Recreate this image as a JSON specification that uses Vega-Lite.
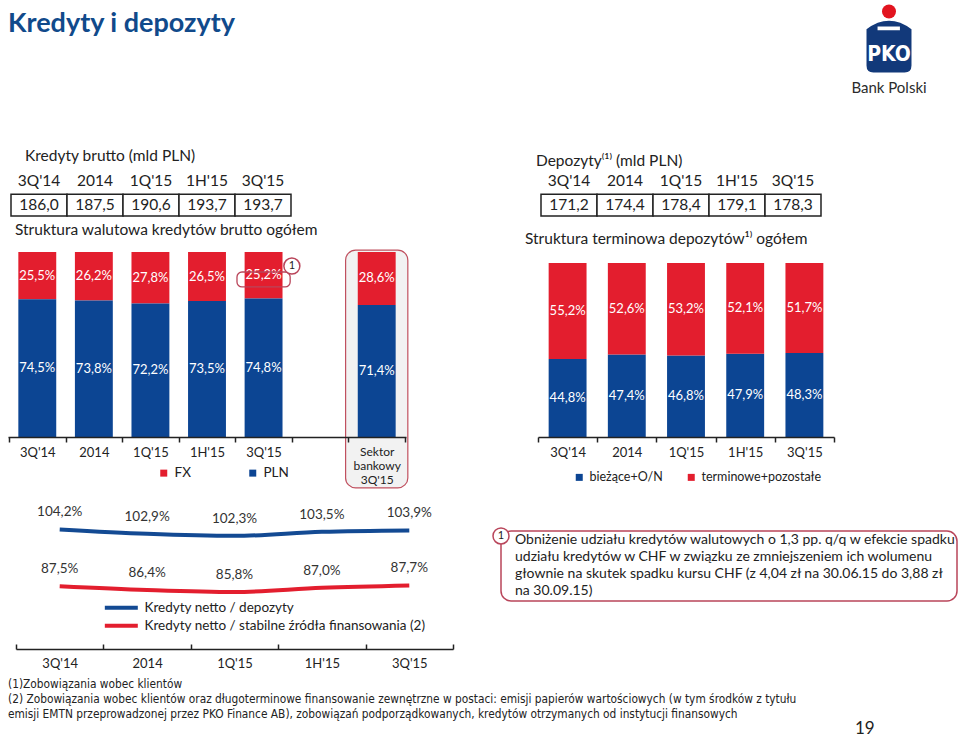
{
  "$schema": "https://vega.github.io/schema/vega-lite/v6.json",
  "padding": {"left": 8, "top": 0, "right": 0, "bottom": 0},
  "autosize": {"type": "pad"},
  "background": "white",
  "config": {
    "view": {"stroke": null},
    "font": "Lato",
    "locale": {"number": {"decimal": ",", "thousands": "\u00a0", "grouping": [3], "currency": ["", " zł"]}},
    "axis": {"domainColor": "#222", "tickColor": "#222", "labelColor": "#222", "labelFont": "Lato", "labelFontSize": 13, "domainWidth": 1.5, "tickWidth": 1.5, "grid": false},
    "legend": {"labelFont": "Lato", "labelColor": "#222", "labelFontSize": 12.5, "padding": 0, "labelLimit": 400},
    "title": {"font": "Lato", "fontWeight": "normal", "color": "#222", "fontSize": 15.5, "anchor": "start", "frame": "group", "baseline": "alphabetic"}
  },
  "datasets": {
    "tab_kredyty": [
      {"period": "3Q'14", "value": 186.0},
      {"period": "2014", "value": 187.5},
      {"period": "1Q'15", "value": 190.6},
      {"period": "1H'15", "value": 193.7},
      {"period": "3Q'15", "value": 193.7}
    ],
    "tab_depozyty": [
      {"period": "3Q'14", "value": 171.2},
      {"period": "2014", "value": 174.4},
      {"period": "1Q'15", "value": 178.4},
      {"period": "1H'15", "value": 179.1},
      {"period": "3Q'15", "value": 178.3}
    ],
    "struktura_kredytow": [
      {"period": "3Q'14", "type": "FX", "share": 0.255},
      {"period": "3Q'14", "type": "PLN", "share": 0.745},
      {"period": "2014", "type": "FX", "share": 0.262},
      {"period": "2014", "type": "PLN", "share": 0.738},
      {"period": "1Q'15", "type": "FX", "share": 0.278},
      {"period": "1Q'15", "type": "PLN", "share": 0.722},
      {"period": "1H'15", "type": "FX", "share": 0.265},
      {"period": "1H'15", "type": "PLN", "share": 0.735},
      {"period": "3Q'15", "type": "FX", "share": 0.252},
      {"period": "3Q'15", "type": "PLN", "share": 0.748},
      {"period": "Sektor bankowy 3Q'15", "type": "FX", "share": 0.286},
      {"period": "Sektor bankowy 3Q'15", "type": "PLN", "share": 0.714}
    ],
    "struktura_depozytow": [
      {"period": "3Q'14", "type": "bieżące+O/N", "share": 0.448},
      {"period": "3Q'14", "type": "terminowe+pozostałe", "share": 0.552},
      {"period": "2014", "type": "bieżące+O/N", "share": 0.474},
      {"period": "2014", "type": "terminowe+pozostałe", "share": 0.526},
      {"period": "1Q'15", "type": "bieżące+O/N", "share": 0.468},
      {"period": "1Q'15", "type": "terminowe+pozostałe", "share": 0.532},
      {"period": "1H'15", "type": "bieżące+O/N", "share": 0.479},
      {"period": "1H'15", "type": "terminowe+pozostałe", "share": 0.521},
      {"period": "3Q'15", "type": "bieżące+O/N", "share": 0.483},
      {"period": "3Q'15", "type": "terminowe+pozostałe", "share": 0.517}
    ],
    "wskazniki": [
      {"period": "3Q'14", "series": "Kredyty netto / depozyty", "ratio": 1.042},
      {"period": "2014", "series": "Kredyty netto / depozyty", "ratio": 1.029},
      {"period": "1Q'15", "series": "Kredyty netto / depozyty", "ratio": 1.023},
      {"period": "1H'15", "series": "Kredyty netto / depozyty", "ratio": 1.035},
      {"period": "3Q'15", "series": "Kredyty netto / depozyty", "ratio": 1.039},
      {"period": "3Q'14", "series": "Kredyty netto / stabilne źródła finansowania (2)", "ratio": 0.875},
      {"period": "2014", "series": "Kredyty netto / stabilne źródła finansowania (2)", "ratio": 0.864},
      {"period": "1Q'15", "series": "Kredyty netto / stabilne źródła finansowania (2)", "ratio": 0.858},
      {"period": "1H'15", "series": "Kredyty netto / stabilne źródła finansowania (2)", "ratio": 0.870},
      {"period": "3Q'15", "series": "Kredyty netto / stabilne źródła finansowania (2)", "ratio": 0.877}
    ],
    "nota": [
      {"line": 1, "text": "Obniżenie udziału kredytów walutowych o 1,3 pp. q/q w efekcie spadku"},
      {"line": 2, "text": "udziału kredytów w CHF w związku ze zmniejszeniem ich wolumenu"},
      {"line": 3, "text": "głownie na skutek spadku kursu CHF (z 4,04 zł na 30.06.15 do 3,88 zł"},
      {"line": 4, "text": "na 30.09.15)"}
    ],
    "przypisy": [
      {"row": 1, "text": "(1)Zobowiązania wobec klientów"},
      {"row": 2, "text": "(2) Zobowiązania wobec klientów oraz długoterminowe finansowanie zewnętrzne w postaci: emisji papierów wartościowych (w tym środków z tytułu"},
      {"row": 3, "text": "\u00a0\u00a0\u00a0\u00a0\u00a0emisji EMTN przeprowadzonej przez PKO Finance AB), zobowiązań podporządkowanych, kredytów otrzymanych od instytucji finansowych"},
      {"row": 4, "text": "19"}
    ]
  },
  "concat": [
    {
      "width": 493, "height": 170,
      "data": {"values": [{"title": "Kredyty i depozyty"}]},
      "mark": {"type": "text", "align": "left", "baseline": "alphabetic", "fontSize": 27, "fontWeight": "bold", "color": "#114a8b"},
      "encoding": {
        "text": {"field": "title", "type": "nominal"},
        "x": {"datum": "t", "type": "nominal", "bandPosition": 0, "scale": {"type": "band", "paddingInner": 0, "paddingOuter": 0}, "axis": null},
        "y": {"datum": "t", "type": "nominal", "scale": {"type": "point", "padding": 0, "align": 0.188}, "axis": null}
      }
    },
    {"width": 37, "height": 170, "data": {"values": []}, "mark": {"type": "point", "opacity": 0}},
    {
      "width": 419, "height": 170,
      "data": {"values": [{"part": "dot"}, {"part": "body", "label": "PKO"}, {"part": "name", "label": "Bank Polski"}]},
      "encoding": {
        "x": {"datum": "logo", "type": "nominal", "scale": {"type": "point", "padding": 0, "align": 0.8377}, "axis": null}
      },
      "layer": [
        {"transform": [{"filter": {"field": "part", "equal": "dot"}}], "mark": {"type": "point", "shape": "circle", "size": 196, "filled": true, "opacity": 1, "color": "#e2141f"},
         "encoding": {"y": {"datum": 1, "type": "quantitative", "scale": {"domain": [0.7013, 5.117], "reverse": true, "nice": false, "zero": false}, "axis": null}}},
        {"transform": [{"filter": {"field": "part", "equal": "body"}}], "mark": {"type": "point", "shape": "M-0.865,-0.8Q0,-1.45 0.865,-0.8L0.865,0.6Q0.865,0.865 0.6,0.865L-0.6,0.865Q-0.865,0.865 -0.865,0.6Z M-0.44,-0.9L-0.44,-0.76L0.42,-0.76L0.42,-0.9Z", "size": 2704, "filled": true, "opacity": 1, "color": "#12397a"},
         "encoding": {"y": {"datum": 2, "type": "quantitative", "scale": {"domain": [0.7013, 5.117], "reverse": true, "nice": false, "zero": false}, "axis": null}}},
        {"transform": [{"filter": {"field": "part", "equal": "body"}}], "mark": {"type": "text", "font": "DejaVu Sans Condensed, DejaVu Sans, sans-serif", "fontWeight": "bold", "fontSize": 21, "color": "white", "dy": 5},
         "encoding": {"y": {"datum": 2, "type": "quantitative", "scale": {"domain": [0.7013, 5.117], "reverse": true, "nice": false, "zero": false}, "axis": null}, "text": {"field": "label", "type": "nominal"}}},
        {"transform": [{"filter": {"field": "part", "equal": "name"}}], "mark": {"type": "text", "fontSize": 15, "color": "#2b2b2b"},
         "encoding": {"y": {"datum": 3, "type": "quantitative", "scale": {"domain": [0.7013, 5.117], "reverse": true, "nice": false, "zero": false}, "axis": null}, "text": {"field": "label", "type": "nominal"}}}
      ]
    },
    {
      "width": 286, "height": 82,
      "title": {"text": "Kredyty brutto (mld PLN)", "dx": 17, "offset": 5.5},
      "data": {"name": "tab_kredyty"},
      "encoding": {"x": {"field": "period", "type": "nominal", "scale": {"type": "band", "domain": ["3Q'14", "2014", "1Q'15", "1H'15", "3Q'15"], "paddingInner": 0, "paddingOuter": 0.0536}, "axis": null}},
      "layer": [
        {"mark": {"type": "rect", "fill": "white", "stroke": "#222", "strokeWidth": 1.5},
         "encoding": {"y": {"datum": "v", "type": "nominal", "scale": {"type": "band", "domain": ["h", "v"], "paddingInner": 0.1, "paddingOuter": 0.744, "align": 0}, "axis": null}}},
        {"mark": {"type": "text", "fontSize": 15.5, "color": "#222"},
         "encoding": {"y": {"datum": "h", "type": "nominal", "scale": {"type": "band", "domain": ["h", "v"], "paddingInner": 0.1, "paddingOuter": 0.744, "align": 0}, "axis": null}, "text": {"field": "period", "type": "nominal"}}},
        {"mark": {"type": "text", "fontSize": 15.5, "color": "#222"},
         "encoding": {"y": {"datum": "v", "type": "nominal", "scale": {"type": "band", "domain": ["h", "v"], "paddingInner": 0.1, "paddingOuter": 0.744, "align": 0}, "axis": null}, "text": {"field": "value", "type": "quantitative", "format": ".1f"}}}
      ]
    },
    {"width": 37, "height": 82, "data": {"values": []}, "mark": {"type": "point", "opacity": 0}},
    {
      "width": 286, "height": 82,
      "title": {"text": "Depozyty⁽¹⁾ (mld PLN)", "dx": -2, "offset": 0.5},
      "data": {"name": "tab_depozyty"},
      "encoding": {"x": {"field": "period", "type": "nominal", "scale": {"type": "band", "domain": ["3Q'14", "2014", "1Q'15", "1H'15", "3Q'15"], "paddingInner": 0, "paddingOuter": 0.0536}, "axis": null}},
      "layer": [
        {"mark": {"type": "rect", "fill": "white", "stroke": "#222", "strokeWidth": 1.5},
         "encoding": {"y": {"datum": "v", "type": "nominal", "scale": {"type": "band", "domain": ["h", "v"], "paddingInner": 0.1, "paddingOuter": 0.744, "align": 0}, "axis": null}}},
        {"mark": {"type": "text", "fontSize": 15.5, "color": "#222"},
         "encoding": {"y": {"datum": "h", "type": "nominal", "scale": {"type": "band", "domain": ["h", "v"], "paddingInner": 0.1, "paddingOuter": 0.744, "align": 0}, "axis": null}, "text": {"field": "period", "type": "nominal"}}},
        {"mark": {"type": "text", "fontSize": 15.5, "color": "#222"},
         "encoding": {"y": {"datum": "v", "type": "nominal", "scale": {"type": "band", "domain": ["h", "v"], "paddingInner": 0.1, "paddingOuter": 0.744, "align": 0}, "axis": null}, "text": {"field": "value", "type": "quantitative", "format": ".1f"}}}
      ]
    },
    {
      "width": 398, "height": 185,
      "title": {"text": "Struktura walutowa kredytów brutto ogółem", "dx": 7, "offset": 11.5},
      "data": {"name": "struktura_kredytow"},
      "encoding": {"x": {"field": "period", "type": "nominal", "scale": {"type": "band", "domain": ["3Q'14", "2014", "1Q'15", "1H'15", "3Q'15", " ", "Sektor bankowy 3Q'15"], "paddingInner": 0, "paddingOuter": 0.0177}, "axis": {"title": null, "zindex": 1, "tickBand": "extent", "labelAngle": 0, "labelExpr": "isValid(datum.value) ? split(datum.value, ' ') : ''", "labelFontSize": {"condition": {"test": "isValid(datum.value) && indexof(datum.value, 'Sektor') >= 0", "value": 12}, "value": 13}, "labelLineHeight": 14, "labelPadding": 4, "tickSize": 5}}},
      "layer": [
        {"transform": [{"filter": {"field": "type", "equal": "FX"}}, {"filter": {"field": "period", "equal": "Sektor bankowy 3Q'15"}}],
         "mark": {"type": "bar", "width": {"band": 1.1}, "cornerRadius": 10, "fill": "#f2f2f2", "stroke": "#c0505f", "strokeWidth": 1.2},
         "encoding": {"y": {"datum": 1.01, "type": "quantitative", "scale": {"domain": [0, 1], "nice": false, "zero": false}, "axis": null}, "y2": {"datum": -0.275}}},
        {"mark": {"type": "bar", "width": {"band": 0.67}},
         "encoding": {
           "y": {"field": "share", "type": "quantitative", "stack": "zero", "scale": {"domain": [0, 1], "nice": false}, "axis": null},
           "color": {"field": "type", "type": "nominal", "scale": {"domain": ["FX", "PLN"], "range": ["#e31e2e", "#0c4593"]}, "legend": {"orient": "none", "legendX": 149, "legendY": 214, "direction": "horizontal", "title": null, "symbolType": "square", "symbolSize": 49, "labelFontSize": 13.5, "labelOffset": 4, "columnPadding": 55}},
           "order": {"field": "type", "sort": "descending"}}},
        {"transform": [{"filter": {"field": "type", "equal": "PLN"}}],
         "mark": {"type": "text", "color": "white", "fontSize": 13},
         "encoding": {"y": {"field": "share", "type": "quantitative", "scale": {"domain": [0, 2], "nice": false, "zero": false}, "axis": null}, "text": {"field": "share", "type": "quantitative", "format": ".1%"}}},
        {"transform": [{"filter": {"field": "type", "equal": "FX"}}],
         "mark": {"type": "text", "color": "white", "fontSize": 13},
         "encoding": {"y": {"field": "share", "type": "quantitative", "scale": {"domain": [0, 2], "reverse": true, "nice": false, "zero": false}, "axis": null}, "text": {"field": "share", "type": "quantitative", "format": ".1%"}}},
        {"transform": [{"filter": {"field": "type", "equal": "FX"}}, {"filter": {"field": "period", "equal": "3Q'15"}}],
         "mark": {"type": "bar", "width": {"band": 0.94}, "cornerRadius": 5, "fill": "transparent", "stroke": "#b9455a", "strokeWidth": 1.3},
         "encoding": {"y": {"datum": 0.892, "type": "quantitative", "scale": {"domain": [0, 1], "nice": false, "zero": false}, "axis": null}, "y2": {"datum": 0.811}}},
        {"transform": [{"filter": {"field": "type", "equal": "FX"}}, {"filter": {"field": "period", "equal": "3Q'15"}}],
         "mark": {"type": "point", "shape": "circle", "size": 256, "filled": true, "fill": "white", "stroke": "#b9455a", "strokeWidth": 1.5, "opacity": 1},
         "encoding": {"x": {"field": "period", "type": "nominal", "bandPosition": 1}, "y": {"datum": 0.924, "type": "quantitative", "scale": {"domain": [0, 1], "nice": false, "zero": false}, "axis": null}}},
        {"transform": [{"filter": {"field": "type", "equal": "FX"}}, {"filter": {"field": "period", "equal": "3Q'15"}}],
         "mark": {"type": "text", "fontSize": 11, "color": "#222"},
         "encoding": {"x": {"field": "period", "type": "nominal", "bandPosition": 1}, "y": {"datum": 0.924, "type": "quantitative", "scale": {"domain": [0, 1], "nice": false, "zero": false}, "axis": null}, "text": {"value": "1"}}}
      ],
      "resolve": {"scale": {"y": "independent"}}
    },
    {"width": 37, "height": 185, "data": {"values": []}, "mark": {"type": "point", "opacity": 0}},
    {
      "width": 296, "height": 185,
      "title": {"text": "Struktura terminowa depozytów¹⁾ ogółem", "dx": -13, "offset": 4.5},
      "data": {"name": "struktura_depozytow"},
      "encoding": {"x": {"field": "period", "type": "nominal", "scale": {"type": "band", "domain": ["3Q'14", "2014", "1Q'15", "1H'15", "3Q'15"], "paddingInner": 0, "paddingOuter": 0}, "axis": {"title": null, "zindex": 1, "tickBand": "extent", "labelAngle": 0, "labelPadding": 4, "tickSize": 5}}},
      "layer": [
        {"mark": {"type": "bar", "width": {"band": 0.64}},
         "encoding": {
           "y": {"field": "share", "type": "quantitative", "stack": "zero", "scale": {"domain": [0, 1.0632], "nice": false}, "axis": null},
           "color": {"field": "type", "type": "nominal", "scale": {"domain": ["bieżące+O/N", "terminowe+pozostałe"], "range": ["#0c4593", "#e31e2e"]}, "legend": {"orient": "none", "legendX": 35, "legendY": 219, "direction": "horizontal", "title": null, "symbolType": "square", "symbolSize": 49, "labelFontSize": 12.5, "labelOffset": 4, "columnPadding": 22}},
           "order": {"field": "type", "sort": "ascending"}}},
        {"transform": [{"filter": {"field": "type", "equal": "bieżące+O/N"}}],
         "mark": {"type": "text", "color": "white", "fontSize": 13},
         "encoding": {"y": {"field": "share", "type": "quantitative", "scale": {"domain": [0, 2.1264], "nice": false, "zero": false}, "axis": null}, "text": {"field": "share", "type": "quantitative", "format": ".1%"}}},
        {"transform": [{"filter": {"field": "type", "equal": "terminowe+pozostałe"}}],
         "mark": {"type": "text", "color": "white", "fontSize": 13},
         "encoding": {"y": {"field": "share", "type": "quantitative", "scale": {"domain": [-0.1264, 2.0], "reverse": true, "nice": false, "zero": false}, "axis": null}, "text": {"field": "share", "type": "quantitative", "format": ".1%"}}}
      ],
      "resolve": {"scale": {"y": "independent"}}
    },
    {
      "width": 445, "height": 212,
      "data": {"name": "wskazniki"},
      "encoding": {
        "x": {"field": "period", "type": "nominal", "scale": {"type": "band", "domain": ["3Q'14", "2014", "1Q'15", "1H'15", "3Q'15"], "range": [8, 445], "paddingInner": 0, "paddingOuter": 0}, "axis": {"title": null, "zindex": 1, "tickBand": "extent", "labelAngle": 0, "tickSize": -5, "labelPadding": 13}},
        "y": {"field": "ratio", "type": "quantitative", "scale": {"domain": [0.69, 1.314], "nice": false, "zero": false}, "axis": null}
      },
      "layer": [
        {"mark": {"type": "line", "strokeWidth": 4, "interpolate": "monotone"},
         "encoding": {"color": {"field": "series", "type": "nominal", "scale": {"domain": ["Kredyty netto / depozyty", "Kredyty netto / stabilne źródła finansowania (2)"], "range": ["#134a93", "#e31e2e"]}, "legend": {"orient": "none", "legendX": 121, "legendY": 164, "title": null, "symbolType": "M-7.5,0L0.5,0", "symbolSize": 68, "symbolStrokeWidth": 4, "labelFontSize": 13.5, "labelOffset": 2, "rowPadding": 1, "labelLimit": 400}}}},
        {"mark": {"type": "text", "dy": -17, "fontSize": 13.5, "color": "#333"},
         "encoding": {"text": {"field": "ratio", "type": "quantitative", "format": ".1%"}}}
      ]
    },
    {
      "width": 37, "height": 212,
      "data": {"name": "nota"},
      "layer": [
        {"transform": [{"filter": {"field": "line", "equal": 1}}],
         "mark": {"type": "rect", "fill": "white", "stroke": "#b9455a", "strokeWidth": 1.5, "cornerRadius": 10},
         "encoding": {
           "x": {"datum": 0, "type": "quantitative", "scale": {"domain": [0, 0.08114], "nice": false, "zero": false}, "axis": null}, "x2": {"datum": 1},
           "y": {"datum": 0.441, "type": "quantitative", "scale": {"domain": [-5.088, 7.383], "reverse": true, "nice": false, "zero": false}, "axis": null}, "y2": {"datum": 4.559}}},
        {"mark": {"type": "text", "align": "left", "dx": 14, "fontSize": 14, "color": "#222"},
         "encoding": {
           "x": {"datum": 0, "type": "quantitative", "scale": {"domain": [0, 0.08114], "nice": false, "zero": false}, "axis": null},
           "y": {"field": "line", "type": "quantitative", "scale": {"domain": [-5.088, 7.383], "reverse": true, "nice": false, "zero": false}, "axis": null},
           "text": {"field": "text", "type": "nominal"}}},
        {"transform": [{"filter": {"field": "line", "equal": 1}}],
         "mark": {"type": "point", "shape": "circle", "size": 256, "filled": true, "fill": "white", "stroke": "#b9455a", "strokeWidth": 1.5, "opacity": 1},
         "encoding": {
           "x": {"datum": 0, "type": "quantitative", "scale": {"domain": [0, 0.08114], "nice": false, "zero": false}, "axis": null},
           "y": {"datum": 0.735, "type": "quantitative", "scale": {"domain": [-5.088, 7.383], "reverse": true, "nice": false, "zero": false}, "axis": null}}},
        {"transform": [{"filter": {"field": "line", "equal": 1}}],
         "mark": {"type": "text", "fontSize": 11, "color": "#222"},
         "encoding": {
           "x": {"datum": 0, "type": "quantitative", "scale": {"domain": [0, 0.08114], "nice": false, "zero": false}, "axis": null},
           "y": {"datum": 0.735, "type": "quantitative", "scale": {"domain": [-5.088, 7.383], "reverse": true, "nice": false, "zero": false}, "axis": null},
           "text": {"value": "1"}}}
      ]
    },
    {"width": 1, "height": 212, "data": {"values": []}, "mark": {"type": "point", "opacity": 0}},
    {
      "width": 493, "height": 94,
      "data": {"name": "przypisy"},
      "transform": [{"filter": "datum.row < 4"}],
      "mark": {"type": "text", "align": "left", "font": "DejaVu Sans Condensed, DejaVu Sans, sans-serif", "fontSize": 11.8, "color": "#222"},
      "encoding": {
        "x": {"datum": "note", "type": "nominal", "scale": {"type": "point", "padding": 0, "align": 0}, "axis": null},
        "y": {"field": "row", "type": "quantitative", "scale": {"domain": [-1.333, 4.933], "reverse": true, "nice": false, "zero": false}, "axis": null},
        "text": {"field": "text", "type": "nominal"}
      }
    },
    {"width": 37, "height": 94, "data": {"values": []}, "mark": {"type": "point", "opacity": 0}},
    {
      "width": 419, "height": 94,
      "data": {"name": "przypisy"},
      "transform": [{"filter": "datum.row == 4"}],
      "mark": {"type": "text", "fontSize": 17, "color": "#222"},
      "encoding": {
        "x": {"datum": "page", "type": "nominal", "scale": {"type": "point", "padding": 0, "align": 0.78}, "axis": null},
        "y": {"field": "row", "type": "quantitative", "scale": {"domain": [-1.333, 4.933], "reverse": true, "nice": false, "zero": false}, "axis": null},
        "text": {"field": "text", "type": "nominal"}
      }
    }
  ],
  "columns": 3,
  "align": "none",
  "bounds": "flush",
  "spacing": 0,
  "resolve": {"scale": {"color": "independent"}, "legend": {"color": "independent"}}
}
